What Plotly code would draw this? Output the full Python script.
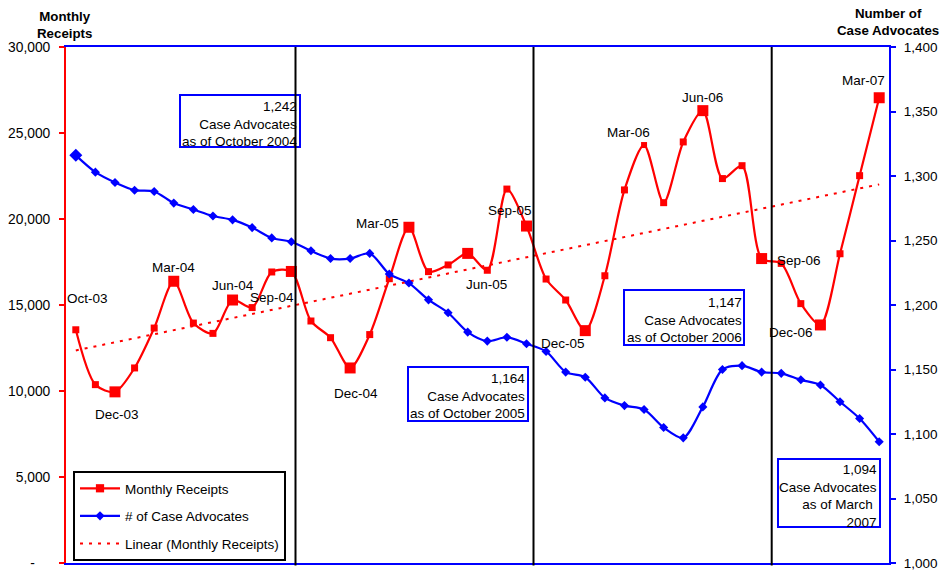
import numpy as np
import pandas as pd
import plotly.graph_objects as go

# ---------------- data ----------------
months = list(pd.date_range("2003-10-01", "2007-03-01", freq="MS").strftime("%b-%y"))

monthly_receipts = [13560, 10370, 9950, 11340, 13660, 16380, 13950, 13350, 15290, 14850,
                    16920, 16950, 14070, 13100, 11340, 13280, 16530, 19520, 16940, 17330,
                    18000, 17020, 21740, 19590, 16510, 15290, 13510, 16700, 21690, 24300,
                    20950, 24480, 26300, 22350, 23100, 17700, 17420, 15080, 13840, 17980,
                    22520, 27050]

case_advocates = [1316, 1303, 1295, 1289, 1288, 1279, 1274, 1269, 1266, 1260,
                  1252, 1249, 1242, 1236, 1236, 1240, 1224, 1217, 1204, 1194,
                  1179, 1172, 1175, 1170, 1164, 1148, 1144, 1128, 1122, 1119,
                  1105, 1097, 1121, 1150, 1153, 1148, 1147, 1142, 1138, 1125,
                  1112, 1094]

labelled_months = ["Oct-03", "Dec-03", "Mar-04", "Jun-04", "Sep-04", "Dec-04", "Mar-05",
                   "Jun-05", "Sep-05", "Dec-05", "Mar-06", "Jun-06", "Sep-06", "Dec-06", "Mar-07"]
big_marker_months = ["Dec-03", "Mar-04", "Jun-04", "Sep-04", "Dec-04", "Mar-05", "Jun-05",
                     "Sep-05", "Dec-05", "Jun-06", "Sep-06", "Dec-06", "Mar-07"]
small_marker_months = ["Mar-06"]

box_texts = [
    "1,242<br>Case Advocates<br>as of October 2004",
    "1,164<br>Case Advocates<br>as of October 2005",
    "1,147<br>Case Advocates<br>as of October 2006",
    "1,094<br>Case Advocates<br>as of March\u00a0<br>2007",
]

left_ticks = [0, 5000, 10000, 15000, 20000, 25000, 30000]
left_ticktext = ["-" + "\u00a0" * 4, "5,000", "10,000", "15,000", "20,000", "25,000", "30,000"]
right_ticks = [1000, 1050, 1100, 1150, 1200, 1250, 1300, 1350, 1400]

# ---------------- layout helpers ----------------
W, H = 940, 576
L, R, T, B = 66, 889, 47, 563
def px_x(x):
    return (x - L) / (R - L)
def px_y(y):
    return (B - y) / (B - T)

RED = "#FF0000"
BLUE = "#0000FF"
FONT = "Liberation Sans, Arial, sans-serif"
FS = 13.5

idx = np.arange(len(months))
coef = np.polyfit(idx, monthly_receipts, 1)
trend = np.polyval(coef, idx)

red_sizes = [11 if m in big_marker_months else (6 if m in small_marker_months else 7) for m in months]
blue_sizes = [10 if i == 0 else 7 for i in range(len(months))]

fig = go.Figure()
fig.add_trace(go.Scatter(
    x=months, y=trend, mode="lines", name="Linear (Monthly Receipts)",
    line=dict(color=RED, width=2, dash="3px,6px"), legendgroup="c", legendrank=3,
    hoverinfo="skip"))
fig.add_trace(go.Scatter(
    x=months, y=monthly_receipts, mode="lines+markers", name="Monthly Receipts",
    line=dict(color=RED, width=2.2, shape="spline", smoothing=0.8),
    marker=dict(symbol="square", size=red_sizes, color=RED, opacity=1, line=dict(width=0)),
    legendgroup="a", legendrank=1))
fig.add_trace(go.Scatter(
    x=months, y=case_advocates, mode="lines+markers", name="# of Case Advocates",
    line=dict(color=BLUE, width=2.2, shape="spline", smoothing=0.8),
    marker=dict(symbol="diamond", size=blue_sizes, color=BLUE, opacity=1, line=dict(width=0)),
    yaxis="y2", legendgroup="b", legendrank=2))

# month labels: offsets (dx, dy) in pixels from the point (dy positive = up)
label_offsets = {
    "Oct-03": (12, 31), "Dec-03": (2, -23), "Mar-04": (0, 14), "Jun-04": (0, 15),
    "Sep-04": (-19, -26), "Dec-04": (6, -26), "Mar-05": (-31, 4), "Jun-05": (19, -31),
    "Sep-05": (-16, 16), "Dec-05": (-22, -13), "Mar-06": (-16, 13), "Jun-06": (0, 13),
    "Sep-06": (37, -2), "Dec-06": (-29, -8), "Mar-07": (-16, 17),
}
annotations = []
for m in labelled_months:
    i = months.index(m)
    dx, dy = label_offsets[m]
    annotations.append(dict(x=m, y=monthly_receipts[i], xref="x", yref="y", text=m,
                            showarrow=False, xshift=dx, yshift=dy,
                            xanchor="center", yanchor="middle",
                            font=dict(family=FONT, size=FS, color="black")))

# text boxes
boxes = [  # (left, top, right, bottom, text right, text centre y) in pixels
    (180, 95, 300, 147, 299, 124.3),
    (408, 367, 528, 421, 527, 396.3),
    (624, 290, 744, 345, 744, 320.3),
    (778, 459, 880, 527, 879, 495.9),
]
shapes = []
for (x0, y0, x1, y1, tx, ty), txt in zip(boxes, box_texts):
    shapes.append(dict(type="rect", xref="paper", yref="paper",
                       x0=px_x(x0), x1=px_x(x1), y0=px_y(y1), y1=px_y(y0),
                       line=dict(color=BLUE, width=2), fillcolor="rgba(0,0,0,0)"))
    annotations.append(dict(x=px_x(tx), y=px_y(ty), xref="paper", yref="paper",
                            xanchor="right", yanchor="middle", align="right", text=txt,
                            showarrow=False, font=dict(family=FONT, size=FS, color="black")))

for vx in [295.5, 533.5, 771.7]:
    shapes.append(dict(type="line", xref="paper", yref="paper", x0=px_x(vx), x1=px_x(vx),
                       y0=-0.005, y1=1, line=dict(color="black", width=2)))

annotations.append(dict(x=px_x(64), y=px_y(25.3), xref="paper", yref="paper",
                        xanchor="center", yanchor="middle",
                        text="<b>Monthly<br>Receipts</b>", showarrow=False, align="center",
                        font=dict(family=FONT, size=13.3, color="black")))
annotations.append(dict(x=px_x(888), y=px_y(22.5), xref="paper", yref="paper",
                        xanchor="center", yanchor="middle",
                        text="<b>Number of<br>Case Advocates</b>", showarrow=False, align="center",
                        font=dict(family=FONT, size=13.3, color="black")))

fig.update_layout(
    template="none",
    width=W, height=H, autosize=False,
    margin=dict(l=L, r=W - R, t=T, b=H - B, pad=0, autoexpand=False),
    paper_bgcolor="white", plot_bgcolor="white",
    font=dict(family=FONT, size=FS, color="black"),
    showlegend=True,
    legend=dict(x=px_x(73), y=px_y(471), xanchor="left", yanchor="top",
                bgcolor="white", bordercolor="black", borderwidth=2,
                font=dict(family=FONT, size=FS, color="black"),
                tracegroupgap=7, traceorder="grouped", itemwidth=40),
    xaxis=dict(type="category", range=[-0.5, len(months) - 0.5], showticklabels=False,
               ticks="", showgrid=False, zeroline=False, showline=True, linecolor=BLUE,
               linewidth=2, mirror=True, automargin=False),
    yaxis=dict(range=[0, 30000], tickvals=left_ticks, ticktext=left_ticktext,
               showgrid=False, zeroline=False, showline=True, linecolor=RED, linewidth=2,
               ticks="outside", ticklen=5, tickwidth=2, tickcolor=RED, automargin=False,
               tickfont=dict(family=FONT, size=13.8, color="black"), ticklabelstandoff=6),
    yaxis2=dict(range=[1000, 1400], tickvals=right_ticks, tickformat=",",
                overlaying="y", side="right", showgrid=False, zeroline=False,
                showline=True, linecolor=BLUE, linewidth=2, automargin=False,
                ticks="outside", ticklen=5, tickwidth=2, tickcolor=BLUE,
                tickfont=dict(family=FONT, size=13.5, color="black"), ticklabelstandoff=5),
    shapes=shapes,
    annotations=annotations,
)

fig.write_html("out.html", config={"displayModeBar": False},
               post_script="document.body.style.margin='0';document.body.style.overflow='hidden';")
